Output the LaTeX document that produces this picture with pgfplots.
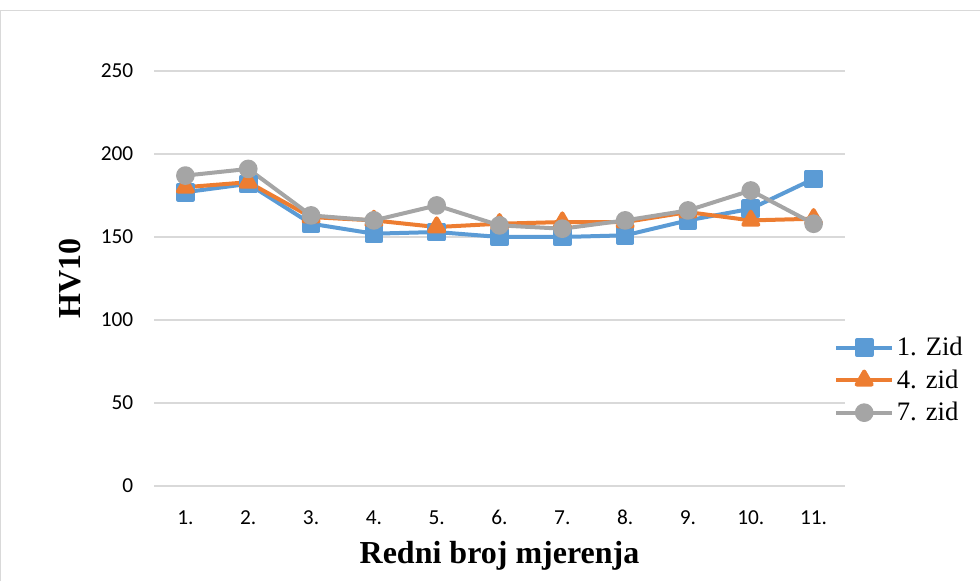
\documentclass[border=0pt]{standalone}
\usepackage{pgfplots}
\pgfplotsset{compat=1.18}
\usepackage{fontspec}
\setmainfont{Liberation Serif}
\newfontfamily\calib{Carlito}
\definecolor{sblue}{HTML}{5B9BD5}
\definecolor{sorange}{HTML}{ED7D31}
\definecolor{sgray}{HTML}{A5A5A5}
\definecolor{gridc}{HTML}{D9D9D9}
\begin{document}
\begin{tikzpicture}
\useasboundingbox (0,0) rectangle (735pt,435.75pt);
\draw[gridc, line width=0.75pt] (0.4pt,0) -- (0.4pt,428pt) -- (735pt,428pt);
\begin{axis}[
  at={(115.5pt,71.25pt)}, anchor=south west,
  scale only axis, width=518.25pt, height=311.25pt,
  xmin=0.5, xmax=11.5, ymin=0, ymax=250,
  xtick={1,...,11},
  xticklabels={1.,2.,3.,4.,5.,6.,7.,8.,9.,10.,11.},
  ytick={0,50,100,150,200,250},
  axis line style={draw=none},
  major tick length=0pt,
  ymajorgrids, grid style={gridc, line width=1pt},
  /pgf/number format/assume math mode=true,
  yticklabel style={font=\calib\fontsize{16}{18}\selectfont, xshift=-12pt},
  xticklabel style={font=\calib\fontsize{16}{18}\selectfont, yshift=-14pt, text height=11pt, text depth=0pt},
  xlabel={\bfseries Redni broj mjerenja},
  ylabel={\bfseries HV10},
  xlabel style={font=\fontsize{24}{26}\selectfont, at={(axis description cs:0.5,-0.169)}, anchor=center},
  ylabel style={font=\fontsize{24}{26}\selectfont, at={(axis description cs:-0.1216,0.5)}, anchor=center},
  legend style={at={(axis description cs:0.984,0.255)}, anchor=west, draw=none, fill=none,
     font=\fontsize{20}{22}\selectfont, row sep=5pt, inner sep=0pt},
  legend cell align=left,
  legend image code/.code={\draw[#1] (0pt,0pt) -- (42pt,0pt); \draw[#1] plot coordinates {(21pt,0pt)};},
  every axis plot/.append style={line width=3pt, mark size=5.5pt, line join=round},
]
\addplot[sblue, mark=square*, mark options={solid}] coordinates {
(1,177) (2,182) (3,158) (4,152) (5,153) (6,150) (7,150) (8,151) (9,160) (10,167) (11,185)};
\addlegendentry{1. Zid}
\addplot[sorange, mark=triangle*, mark size=6.5pt] coordinates {
(1,180) (2,183) (3,162) (4,160) (5,156) (6,158) (7,159) (8,159) (9,165) (10,160) (11,161)};
\addlegendentry{4. zid}
\addplot[sgray, mark=*] coordinates {
(1,187) (2,191) (3,163) (4,160) (5,169) (6,157) (7,155) (8,160) (9,166) (10,178) (11,158)};
\addlegendentry{7. zid}
\end{axis}
\end{tikzpicture}
\end{document}
